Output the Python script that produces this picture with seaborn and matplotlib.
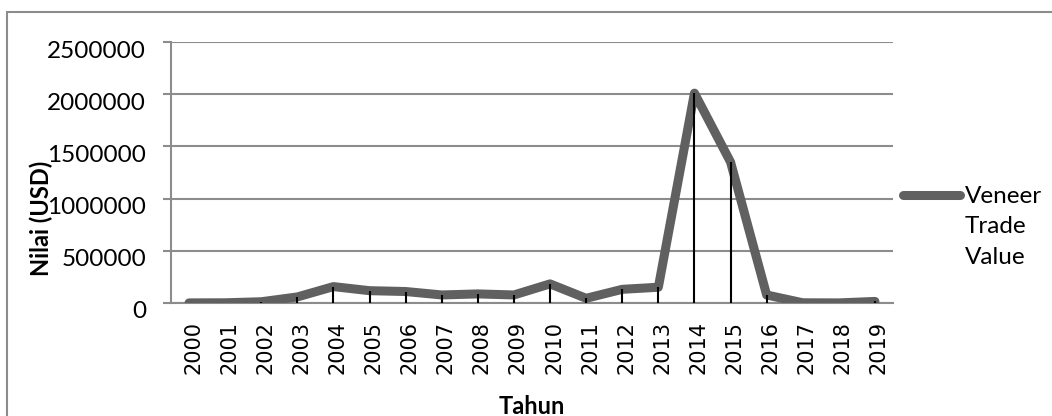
import matplotlib
matplotlib.use("Agg")
import matplotlib.pyplot as plt
import matplotlib.transforms as mtransforms
from matplotlib.lines import Line2D
from matplotlib.patches import Rectangle
import numpy as np
import pandas as pd
import seaborn as sns

# Veneer trade value by year (USD)
years = [str(y) for y in range(2000, 2020)]
trade_value = [1000, 2000, 12000, 58000, 157000, 118000, 110000, 77000, 87000, 77000,
               183000, 45000, 131000, 151000, 2010000, 1350000, 77000, 2000, 1000, 15000]
y_ticks = [0, 500000, 1000000, 1500000, 2000000, 2500000]
series_name = "Veneer\nTrade\nValue"
x_title = "Tahun"
y_title = "Nilai (USD)"

LINE_COLOR = "#606060"
GRID_COLOR = "#8c8c8c"

sns.set_theme(style="white")
plt.rcParams["font.family"] = ["Lato", "DejaVu Sans"]

df = pd.DataFrame({"Tahun": years, "Nilai": trade_value})

fig = plt.figure(figsize=(10.52, 4.16), dpi=100)
ax = fig.add_axes([171 / 1052, 1 - 303 / 416, 722 / 1052, 261 / 416])

sns.lineplot(data=df, x="Tahun", y="Nilai", ax=ax, color=LINE_COLOR,
             linewidth=6.5, solid_capstyle="round", solid_joinstyle="round",
             legend=False, zorder=3)

# drop lines from each point to the category axis
xpos = np.arange(len(years))
ax.vlines(xpos, 0, trade_value, color="black", linewidth=1.5, zorder=4)

ax.set_xlim(-0.5, len(years) - 0.5)
ax.set_ylim(0, y_ticks[-1])
ax.set_yticks(y_ticks)
ax.set_yticklabels([str(v) for v in y_ticks])
ax.yaxis.grid(True, color=GRID_COLOR, linewidth=1.5)
ax.set_axisbelow(True)

for side in ("top", "right"):
    ax.spines[side].set_visible(False)
for side in ("left", "bottom"):
    ax.spines[side].set_color(GRID_COLOR)
    ax.spines[side].set_linewidth(1.5)

ax.tick_params(axis="y", length=6, width=1.5, color=GRID_COLOR, pad=12,
               labelsize=17.5, labelcolor="black", left=True)
ax.tick_params(axis="x", length=0, pad=13, labelsize=15, labelcolor="black",
               rotation=90)
for lab in ax.get_xticklabels():
    lab.set_family("DejaVu Sans")
    lab.set_transform(lab.get_transform() +
                      mtransforms.ScaledTranslation(0.04, 0, fig.dpi_scale_trans))
for lab in ax.get_yticklabels():
    lab.set_transform(lab.get_transform() +
                      mtransforms.ScaledTranslation(0, -0.07, fig.dpi_scale_trans))

ax.set_xlabel(x_title, fontsize=17, fontweight="bold", color="black")
ax.xaxis.label.set_va("center")
ax.xaxis.set_label_coords(0.5, -0.395)
ax.set_ylabel(y_title, fontsize=17, fontweight="bold", color="black")
ax.yaxis.label.set_va("center")
ax.yaxis.set_label_coords(-0.179, 0.324)

# series key on the right
fig.add_artist(Line2D([903 / 1052, 960 / 1052], [1 - 195 / 416, 1 - 195 / 416],
                      color=LINE_COLOR, linewidth=6.5, solid_capstyle="round"))
fig.text(965 / 1052, 1 - 186 / 416, series_name, fontsize=17.5, va="top",
         ha="left", color="black", linespacing=1.55)

# chart border
fig.add_artist(Rectangle((7 / 1052, -0.1), 1.2, 1 - 12 / 416 + 0.1,
                         transform=fig.transFigure, fill=False,
                         edgecolor=GRID_COLOR, linewidth=1.5))

fig.savefig("out.png", dpi=100)
